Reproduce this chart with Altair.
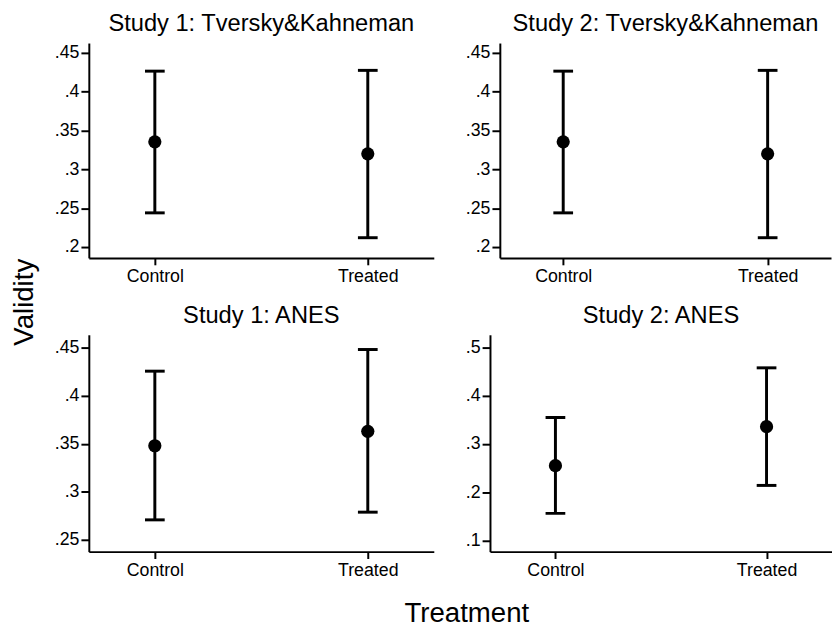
import altair as alt
import pandas as pd

titles = ["Study 1: Tversky&Kahneman", "Study 2: Tversky&Kahneman", "Study 1: ANES", "Study 2: ANES"]
groups = ["Control", "Treated"]

means = [[0.3355, 0.320], [0.3355, 0.320], [0.348, 0.363], [0.255, 0.336]]
lows = [[0.244, 0.212], [0.244, 0.212], [0.271, 0.279], [0.156, 0.214]]
highs = [[0.4265, 0.4275], [0.4265, 0.4275], [0.4255, 0.448], [0.355, 0.458]]

domains = [[0.186, 0.4627], [0.186, 0.4627], [0.238, 0.4633], [0.0766, 0.5266]]
tick_vals = [
    [0.2, 0.25, 0.3, 0.35, 0.4, 0.45],
    [0.2, 0.25, 0.3, 0.35, 0.4, 0.45],
    [0.25, 0.3, 0.35, 0.4, 0.45],
    [0.1, 0.2, 0.3, 0.4, 0.5],
]
widths = [350, 336, 350, 347]
heights = [218, 218, 220, 220]
title_offsets = [7, 7, 7, 7]
FONT = "Liberation Sans"
label_expr = "replace(format(datum.value, '.2~f'), '0.', '.')"


def panel(i):
    df = pd.DataFrame({"group": groups, "mean": means[i], "lo": lows[i], "hi": highs[i]})
    base = alt.Chart(df)
    sc = alt.Scale(domain=domains[i], nice=False, zero=False)
    x = alt.X("group:N", sort=groups,
              scale=alt.Scale(type="point", padding=0.31),
              axis=alt.Axis(title=None, labelAngle=0, tickSize=7, labelPadding=3))
    yax = alt.Axis(title=None, values=tick_vals[i], labelExpr=label_expr)
    rule = base.mark_rule(color="black", strokeWidth=3).encode(
        x=x, y=alt.Y("lo:Q", scale=sc, axis=yax), y2="hi:Q")
    cap_lo = base.mark_tick(color="black", thickness=3, size=20, opacity=1).encode(
        x=x, y=alt.Y("lo:Q", scale=sc, axis=yax))
    cap_hi = base.mark_tick(color="black", thickness=3, size=20, opacity=1).encode(
        x=x, y=alt.Y("hi:Q", scale=sc, axis=yax))
    pts = base.mark_circle(color="black", size=180, opacity=1).encode(
        x=x, y=alt.Y("mean:Q", scale=sc, axis=yax))
    return alt.layer(rule, cap_lo, cap_hi, pts).properties(
        width=widths[i], height=heights[i],
        title=alt.TitleParams(titles[i], offset=title_offsets[i]))


row1 = alt.hconcat(panel(0), panel(1), spacing=31)
row2 = alt.hconcat(panel(2), panel(3), spacing=31)
inner = alt.vconcat(row1, row2, spacing=19).properties(
    title=alt.TitleParams("Treatment", orient="bottom", anchor="middle", fontSize=28, font=FONT,
                          fontWeight="normal", color="black", offset=21, dx=24))
chart = alt.hconcat(inner).properties(
    padding={"left": 2, "top": 0, "right": 0, "bottom": 0},
    title=alt.TitleParams("Validity", orient="left", anchor="middle", fontSize=28, font=FONT,
                          fontWeight="normal", color="black", offset=16, dx=18)
).configure_view(stroke=None).configure_axis(
    domainColor="black", domainWidth=2, tickColor="black", tickWidth=2, tickSize=8,
    grid=False, labelColor="black", labelFont=FONT, labelFontSize=18, labelPadding=2
).configure_title(
    font=FONT, fontSize=24, fontWeight="normal", color="black", offset=7
)

chart.save("out.html", embed_options={"renderer": "svg", "actions": False})
